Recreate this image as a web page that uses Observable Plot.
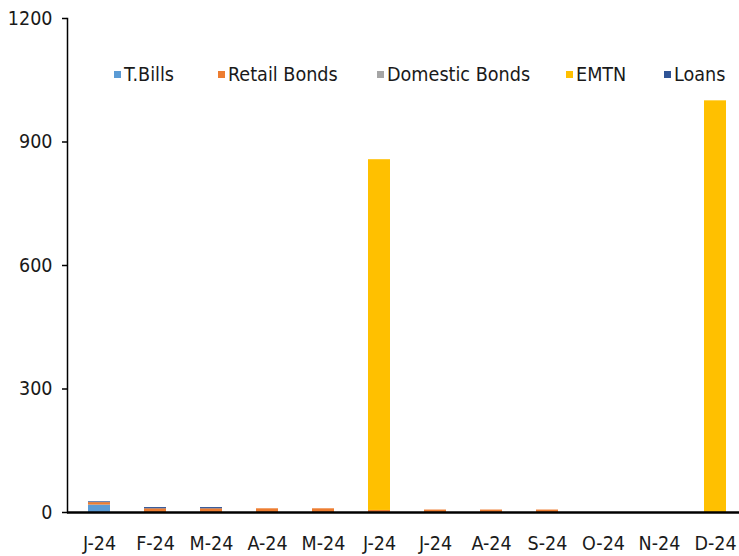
<!DOCTYPE html>
<html>
<head>
<meta charset="utf-8">
<script src="https://cdn.jsdelivr.net/npm/d3@7"></script>
<script src="https://cdn.jsdelivr.net/npm/@observablehq/plot@0.6"></script>
<style>
  html, body { margin: 0; padding: 0; background: #fff; }
  #wrap { position: relative; width: 739px; height: 556px; font-family: "DejaVu Sans Condensed", "DejaVu Sans", sans-serif; }
  #legend { position: absolute; top: 62px; left: 0; width: 739px; height: 24px; font-size: 19.6px; color: #1a1a1a; }
  .item { position: absolute; top: 0; display: flex; align-items: center; height: 24px; white-space: nowrap; }
  .sw { width: 7px; height: 7px; margin-right: 3px; }
</style>
</head>
<body>
<div id="wrap"><div id="legend"></div></div>
<script>
const months = ["J-24","F-24","M-24","A-24","M-24","J-24","J-24","A-24","S-24","O-24","N-24","D-24"];
const seriesNames = ["T.Bills","Retail Bonds","Domestic Bonds","EMTN","Loans"];
const seriesColors = ["#5B9BD5","#ED7D31","#A5A5A5","#FFC000","#2F5496"];
const tbills   = [18,0,0,0,0,0,0,0,0,0,0,0];
const retail   = [6,9,9,9,9,5,6,6,6,0,0,0];
const domestic = [0,0,0,0,0,0,0,0,0,0,0,0];
const emtn     = [0,0,0,0,0,852,0,0,0,0,0,1000];
const loans    = [2,3,3,0,0,0,0,0,0,0,0,0];
const yTicks = [0,300,600,900,1200];

const seriesValues = [tbills, retail, domestic, emtn, loans];
const rows = [];
months.forEach((m, i) => {
  seriesNames.forEach((s, k) => {
    rows.push({i, series: s, value: seriesValues[k][i]});
  });
});

const chart = Plot.plot({
  width: 739,
  height: 556,
  marginLeft: 67,
  marginRight: 0,
  marginTop: 18,
  marginBottom: 44,
  style: {fontFamily: '"DejaVu Sans Condensed", "DejaVu Sans", sans-serif', fontSize: "19.5px", color: "#1a1a1a", background: "#fff"},
  x: {type: "band", domain: d3.range(months.length), range: [69, 745], paddingInner: 0.6, paddingOuter: 0.3, label: null},
  y: {domain: [0, 1200], label: null},
  color: {domain: seriesNames, range: seriesColors},
  marks: [
    Plot.barY(rows, {x: "i", y: "value", fill: "series", order: seriesNames}),
    Plot.frame({anchor: "left", stroke: "#000", strokeWidth: 1.5}),
    Plot.ruleY([0], {stroke: "#000", strokeWidth: 2.5}),
    Plot.axisY({ticks: yTicks, tickFormat: d => String(d), tickSize: 5, tickPadding: 10, stroke: "#000", strokeWidth: 1.5, fill: "#1a1a1a", fontSize: 19.5, label: null}),
    Plot.axisX({tickSize: 0, tickPadding: 24, tickFormat: i => months[i], fill: "#1a1a1a", fontSize: 19.5, label: null})
  ]
});
document.getElementById("wrap").prepend(chart);
chart.style.position = "absolute";
chart.style.left = "0";
chart.style.top = "0";

const legendLeft = [114, 218, 377, 566, 664];
const legend = document.getElementById("legend");
seriesNames.forEach((s, k) => {
  const it = document.createElement("div");
  it.className = "item";
  it.style.left = legendLeft[k] + "px";
  const sw = document.createElement("span");
  sw.className = "sw";
  sw.style.background = seriesColors[k];
  const tx = document.createElement("span");
  tx.textContent = s;
  it.appendChild(sw);
  it.appendChild(tx);
  legend.appendChild(it);
});
</script>
</body>
</html>
